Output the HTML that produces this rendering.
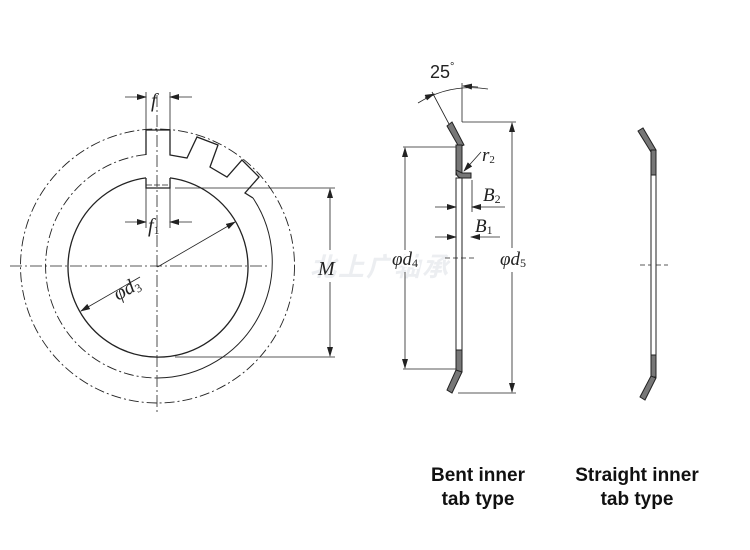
<!DOCTYPE html>
<html><head><style>body{margin:0;background:#fff}svg{display:block}</style></head><body>
<svg width="750" height="550" viewBox="0 0 750 550" xmlns="http://www.w3.org/2000/svg">
<defs>
<marker id="a" markerWidth="10" markerHeight="6" refX="9" refY="3" orient="auto" markerUnits="userSpaceOnUse"><path d="M0,0 L10,3 L0,6 z" fill="#222"/></marker>
</defs>
<text x="380" y="276" font-family="Liberation Sans, Noto Sans CJK SC, sans-serif" font-size="26" font-weight="bold" font-style="italic" fill="#eceef1" text-anchor="middle" letter-spacing="2">北上广轴承</text>
<g fill="none" stroke="#222" stroke-width="1">
<!-- left view -->
<circle cx="157.5" cy="266" r="137" stroke-dasharray="10,3,2,3" stroke-width="0.9"/>
<path d="M146,154.6 A112,112 0 0 0 157.5,378" stroke-dasharray="10,3,2,3" stroke-width="0.9"/>
<path d="M253,198 A116,116 0 0 1 157.5,378" stroke-width="1"/>
<path d="M170,177.9 A90,90 0 1 1 146,177.9" stroke-width="1.3"/>
<path d="M146,155 V130 H170 V155 L187,158 L197,137 L218,145 L210,167 L227,177 L242,160 L259,177 L245,193 L253,198" stroke-width="1.3"/>
<path d="M146,178 V188 H170 V178" stroke-width="1.3"/>
<path d="M146,185 H170" stroke-dasharray="6,2" stroke-width="0.7"/>
<path d="M10,266 H270 M157,95 V412" stroke-dasharray="12,3,2,3" stroke-width="0.8"/>
<path d="M146,92 V130 M170,92 V130 M146,188 V228 M170,188 V228" stroke-width="0.8"/>
<line x1="125" y1="97" x2="146" y2="97" marker-end="url(#a)" stroke-width="0.8"/>
<line x1="192" y1="97" x2="170" y2="97" marker-end="url(#a)" stroke-width="0.8"/>
<line x1="125" y1="222" x2="146" y2="222" marker-end="url(#a)" stroke-width="0.8"/>
<line x1="192" y1="222" x2="170" y2="222" marker-end="url(#a)" stroke-width="0.8"/>
<path d="M175,188 H335 M175,357 H335" stroke-width="0.8"/>
<line x1="330" y1="250" x2="330" y2="189" marker-end="url(#a)" stroke-width="0.8"/>
<line x1="330" y1="282" x2="330" y2="356" marker-end="url(#a)" stroke-width="0.8"/>
<line x1="157.5" y1="267" x2="235" y2="222" marker-end="url(#a)" stroke-width="0.8"/>
<line x1="140" y1="277" x2="81" y2="311" marker-end="url(#a)" stroke-width="0.8"/>
</g>
<g font-family="Liberation Serif, serif" font-style="italic" fill="#222">
<text x="151" y="107" font-size="20">f</text>
<text x="148" y="232" font-size="20">f<tspan font-size="12" font-style="normal" dy="2">1</tspan></text>
<text x="318" y="275" font-size="20">M</text>
<text x="0" y="0" font-size="20" transform="translate(118,301) rotate(-30)">φd<tspan font-size="12" font-style="normal" dy="3">3</tspan></text>
</g>
<!-- middle view -->
<g stroke="#222" stroke-width="1">
<path d="M447,126 L452,122 L464,145 L459,147 Z" fill="#777"/>
<rect x="456" y="145" width="6" height="30" fill="#777"/>
<path d="M456,170 Q456,178 462,178 H471 V173 H462 Z" fill="#777"/>
<rect x="456" y="178" width="6" height="172" fill="#fff"/>
<rect x="456" y="350" width="6" height="22" fill="#777"/>
<path d="M456,370 L462,372 L452,393 L447,390 Z" fill="#777"/>
</g>
<g fill="none" stroke="#222" stroke-width="0.8">
<path d="M403,147 H456 M403,369 H456 M462,122 H516 M458,393 H516 M462,83 V122 M472,180 V212 M449,124 L432,92"/>
<line x1="405" y1="250" x2="405" y2="148" marker-end="url(#a)"/>
<line x1="405" y1="272" x2="405" y2="368" marker-end="url(#a)"/>
<line x1="512" y1="248" x2="512" y2="123" marker-end="url(#a)"/>
<line x1="512" y1="272" x2="512" y2="392" marker-end="url(#a)"/>
<line x1="435" y1="207" x2="456" y2="207" marker-end="url(#a)"/>
<line x1="505" y1="207" x2="472" y2="207" marker-end="url(#a)"/>
<line x1="435" y1="237" x2="456" y2="237" marker-end="url(#a)"/>
<line x1="500" y1="237" x2="471" y2="237" marker-end="url(#a)"/>
<line x1="481" y1="152" x2="464" y2="171" marker-end="url(#a)"/>
<path d="M418,103 Q450,83 488,89"/>
<line x1="425" y1="98" x2="434" y2="94" marker-end="url(#a)"/>
<line x1="478" y1="87" x2="463" y2="86" marker-end="url(#a)"/>
<path d="M445,258 H474 M640,265 H668" stroke-dasharray="5,3"/>
</g>
<g font-family="Liberation Serif, serif" font-style="italic" fill="#222" font-size="19">
<text x="482" y="161">r<tspan font-size="11" font-style="normal" dy="2">2</tspan></text>
<text x="483" y="201">B<tspan font-size="12" font-style="normal" dy="2">2</tspan></text>
<text x="475" y="232">B<tspan font-size="12" font-style="normal" dy="2">1</tspan></text>
<text x="392" y="265" style="paint-order:stroke" stroke="#fff" stroke-width="4">φd<tspan font-size="12" font-style="normal" dy="2">4</tspan></text>
<text x="500" y="265" style="paint-order:stroke" stroke="#fff" stroke-width="4">φd<tspan font-size="12" font-style="normal" dy="2">5</tspan></text>
</g>
<text x="430" y="78" font-family="Liberation Sans, sans-serif" font-size="18" fill="#222">25<tspan font-size="11" dy="-8">°</tspan></text>
<!-- right view -->
<g stroke="#222" stroke-width="1">
<path d="M638,131 L643,128 L656,150 L651,152 Z" fill="#777"/>
<rect x="651" y="150" width="5" height="25" fill="#777"/>
<rect x="651" y="175" width="5" height="180" fill="#fff"/>
<rect x="651" y="355" width="5" height="22" fill="#777"/>
<path d="M651,376 L656,378 L645,400 L640,397 Z" fill="#777"/>
</g>
<g font-family="Liberation Sans, sans-serif" font-weight="bold" font-size="19" fill="#111" text-anchor="middle">
<text x="478" y="481">Bent inner</text><text x="478" y="505">tab type</text>
<text x="637" y="481">Straight inner</text><text x="637" y="505">tab type</text>
</g>
</svg>
</body></html>
